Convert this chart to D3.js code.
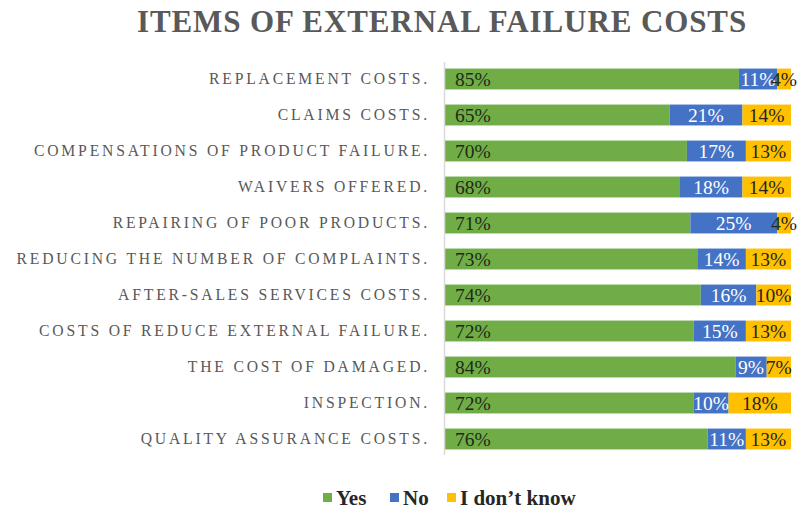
<!DOCTYPE html>
<html>
<head>
<meta charset="utf-8">
<script src="https://cdn.jsdelivr.net/npm/d3@7"></script>
<style>
  html, body { margin: 0; padding: 0; background: #fff; }
  svg { display: block; }
</style>
</head>
<body>
<svg id="chart" width="800" height="509"></svg>
<script>
// Survey answers per item of external failure cost (percent of respondents)
const categories = [
  "REPLACEMENT COSTS.",
  "CLAIMS COSTS.",
  "COMPENSATIONS OF PRODUCT FAILURE.",
  "WAIVERS OFFERED.",
  "REPAIRING OF POOR PRODUCTS.",
  "REDUCING THE NUMBER OF COMPLAINTS.",
  "AFTER-SALES SERVICES COSTS.",
  "COSTS OF REDUCE EXTERNAL FAILURE.",
  "THE COST OF DAMAGED.",
  "INSPECTION.",
  "QUALITY ASSURANCE COSTS."
];
const yesValues     = [85, 65, 70, 68, 71, 73, 74, 72, 84, 72, 76];
const noValues      = [11, 21, 17, 18, 25, 14, 16, 15,  9, 10, 11];
const dontKnowValues= [ 4, 14, 13, 14,  4, 13, 10, 13,  7, 18, 13];
const seriesNames   = ["Yes", "No", "I don\u2019t know"];
const seriesColors  = ["#70AD47", "#4472C4", "#FFC000"];
const labelColors   = ["#1f2a16", "#ffffff", "#262626"];

const svg = d3.select("#chart");
const serif = "'Liberation Serif', 'Times New Roman', serif";

const plot = { left: 444, right: 791, top: 61, bottom: 457 };

const x = d3.scaleLinear().domain([0, 100]).range([plot.left, plot.right]);
const y = d3.scaleBand().domain(categories).range([plot.top, plot.bottom])
  .paddingInner(0.42).paddingOuter(0.21);

const stackData = categories.map((c, i) => ({ cat: c, yes: yesValues[i], no: noValues[i], dk: dontKnowValues[i] }));
const stack = d3.stack().keys(["yes", "no", "dk"])(stackData);

// Title
svg.append("text")
  .attr("x", 442).attr("y", 32)
  .attr("text-anchor", "middle")
  .attr("font-family", serif)
  .attr("font-weight", "bold")
  .attr("font-size", 31)
  .attr("letter-spacing", 0.9)
  .attr("fill", "#595959")
  .text("ITEMS OF EXTERNAL FAILURE COSTS");

// Bars
const layers = svg.append("g").selectAll("g").data(stack).join("g")
  .attr("fill", (d, i) => seriesColors[i]);
layers.selectAll("rect").data(d => d).join("rect")
  .attr("x", d => x(d[0]))
  .attr("width", d => x(d[1]) - x(d[0]))
  .attr("y", d => y(d.data.cat))
  .attr("height", y.bandwidth());

// Category axis
const yAxis = d3.axisLeft(y).tickSize(0).tickPadding(14);
const ax = svg.append("g").attr("transform", `translate(${plot.left},0)`).call(yAxis);
ax.select(".domain").attr("stroke", "#d9d9d9").attr("stroke-width", 1.5)
  .attr("d", `M0.5,${plot.top + 1}V${plot.bottom - 2}`);
ax.selectAll(".tick text")
  .attr("font-family", serif)
  .attr("font-size", 15.7)
  .attr("letter-spacing", 2.8)
  .attr("fill", "#595959");

// Value labels
const lab = svg.append("g").attr("font-family", serif).attr("font-size", 19.5);
stack.forEach((layer, si) => {
  lab.append("g").selectAll("text").data(layer).join("text")
    .attr("x", d => si === 0 ? x(d[0]) + 11 : (x(d[0]) + x(d[1])) / 2)
    .attr("y", d => y(d.data.cat) + y.bandwidth() / 2)
    .attr("dy", "0.35em")
    .attr("text-anchor", si === 0 ? "start" : "middle")
    .attr("fill", labelColors[si])
    .text(d => (d[1] - d[0]) + "%");
});

// Legend
const legendX = [323, 390, 447];
const lg = svg.append("g");
seriesNames.forEach((name, i) => {
  lg.append("rect").attr("x", legendX[i]).attr("y", 493).attr("width", 9).attr("height", 9)
    .attr("fill", seriesColors[i]);
  lg.append("text").attr("x", legendX[i] + 13).attr("y", 505)
    .attr("font-family", serif).attr("font-weight", "bold").attr("font-size", 21)
    .attr("fill", "#262626").text(name);
});
</script>
</body>
</html>
